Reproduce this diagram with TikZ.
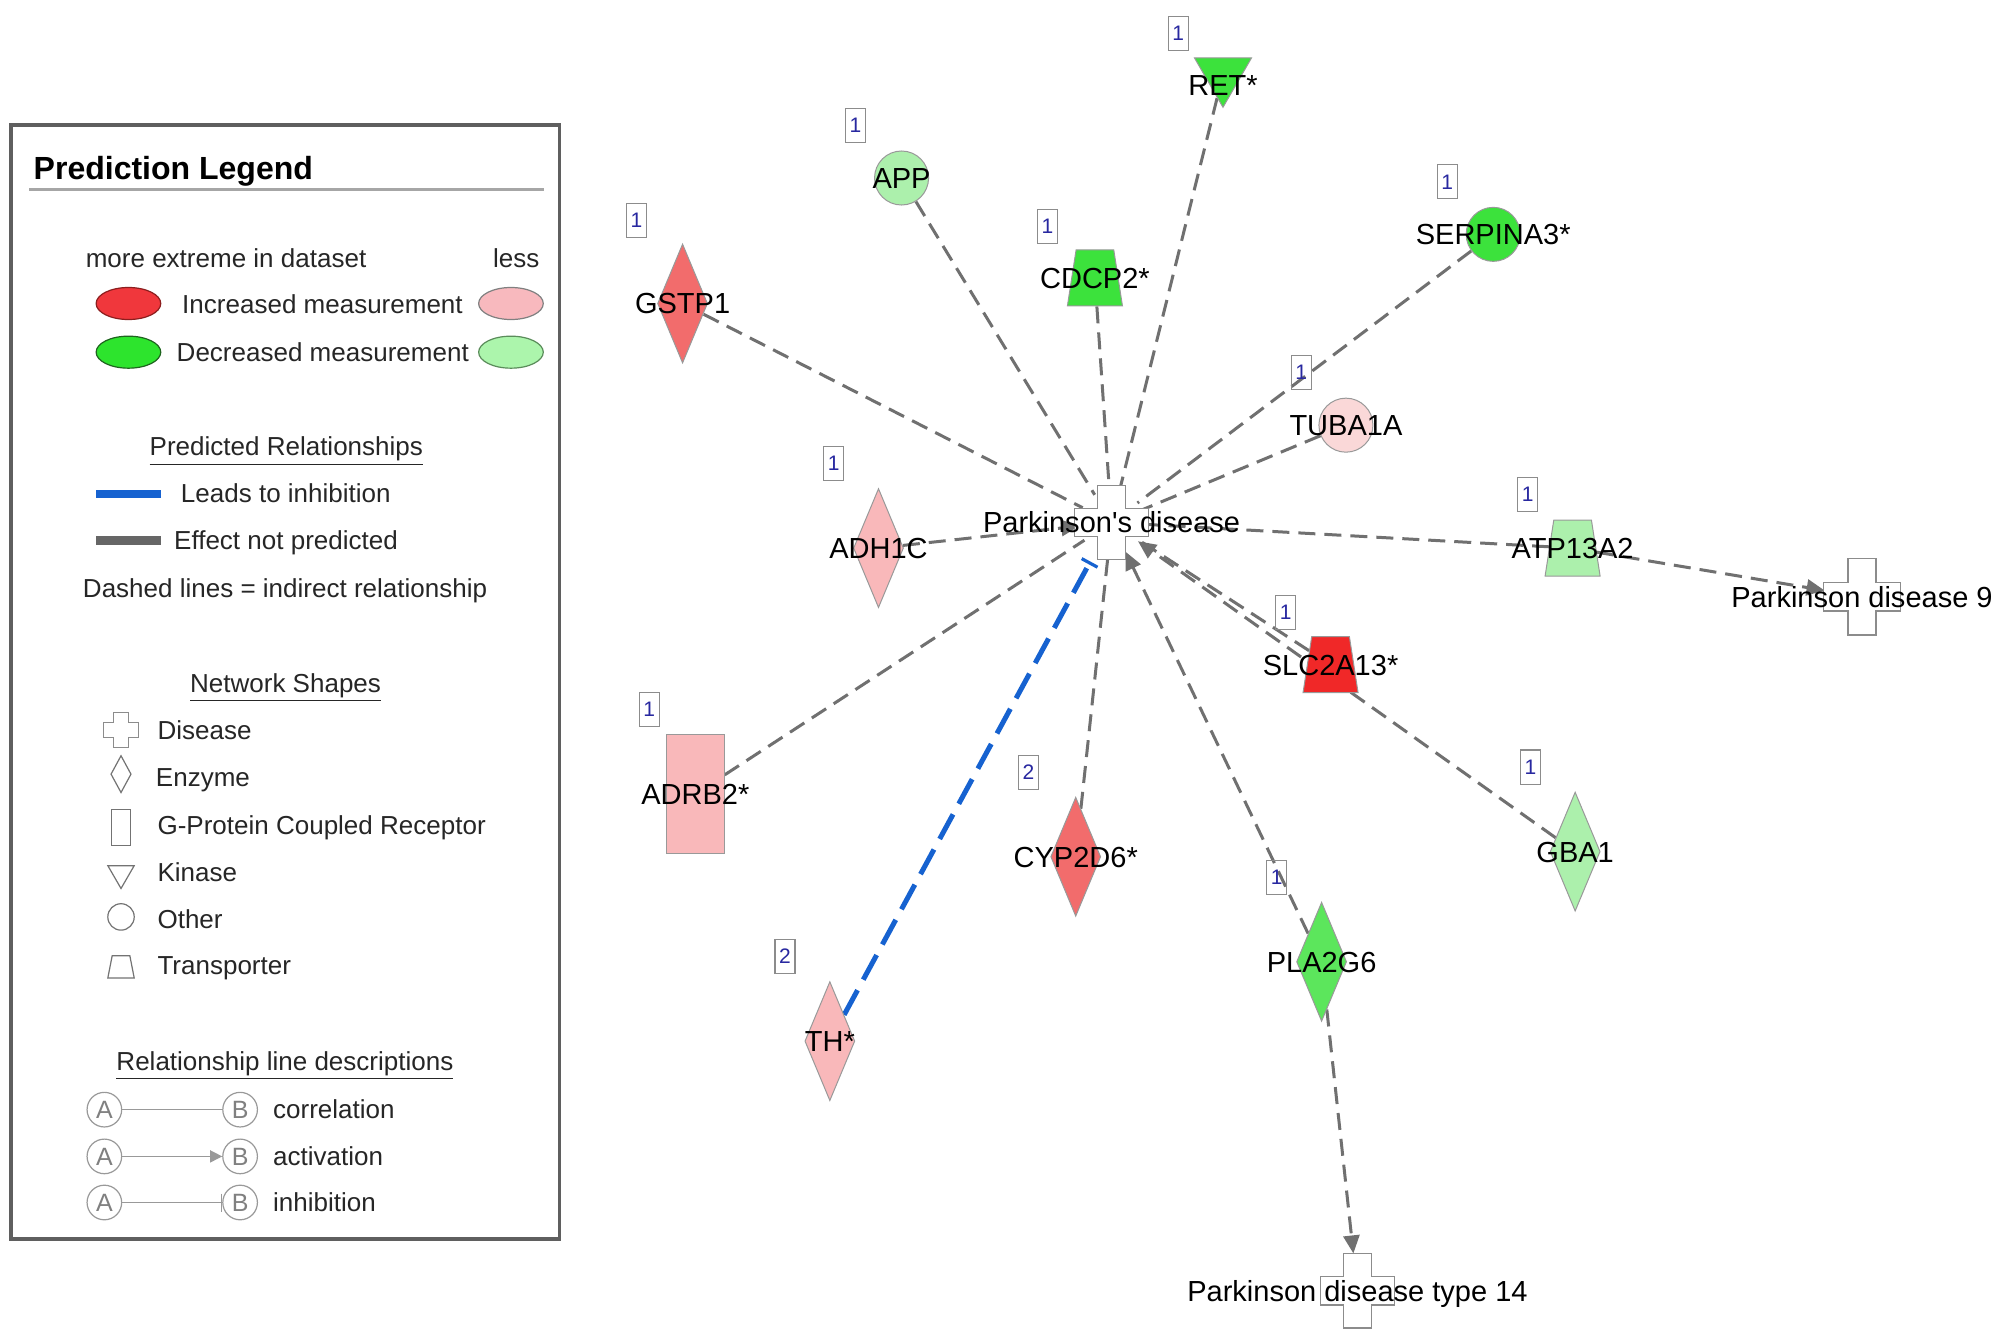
\documentclass[tikz,border=0pt]{standalone}
\usepackage{fontspec}
\setmainfont{Liberation Sans}
\usetikzlibrary{positioning, shapes.geometric, arrows.meta, backgrounds}

\definecolor{upstrong}{RGB}{240,40,40}
\definecolor{upmid}{RGB}{242,108,108}
\definecolor{uplight}{RGB}{249,184,186}
\definecolor{upfaint}{RGB}{250,216,216}
\definecolor{downstrong}{RGB}{60,226,60}
\definecolor{downmid}{RGB}{92,230,92}
\definecolor{downlight}{RGB}{172,240,172}
\definecolor{edgegray}{RGB}{112,112,112}
\definecolor{inhblue}{RGB}{22,98,208}
\definecolor{badgeblue}{RGB}{40,40,160}
\definecolor{framegray}{RGB}{95,95,95}

\begin{document}
\begin{tikzpicture}[
    x=0.64pt, y=-0.64pt,
    genetext/.style={font=\fontsize{14.5}{16}\selectfont, text height=10.4pt, text depth=0pt, inner sep=0pt},
    legtext/.style={font=\fontsize{13}{15}\selectfont, text=black!85, text height=9.3pt, text depth=0pt, inner sep=0pt},
    legtitle/.style={font=\fontsize{16}{18}\selectfont\bfseries, text height=11.5pt, text depth=0pt, inner sep=0pt},
    molecule/.style={draw=black!40, line width=0.5pt, inner sep=0pt},
    enzyme/.style={molecule, diamond, minimum width=25pt, minimum height=59.5pt, label={[genetext]center:#1}},
    transporter/.style={molecule, trapezium, inner sep=1pt, trapezium left angle=77, trapezium right angle=77,
      trapezium stretches=true, minimum width=27.5pt, minimum height=28pt, label={[genetext]center:#1}},
    kinase/.style={molecule, regular polygon, regular polygon sides=3, shape border rotate=180,
      minimum size=33pt, label={[genetext, yshift=-5.5pt]center:#1}},
    other/.style={molecule, circle, minimum size=27pt, label={[genetext]center:#1}},
    gpcr/.style={molecule, rectangle, minimum width=28.8pt, minimum height=59.5pt, label={[genetext]center:#1}},
    hub/.style={circle, minimum size=32pt, inner sep=0pt, label={[genetext]center:#1}},
    endpoint/.style={rectangle, minimum width=37pt, minimum height=37pt, inner sep=0pt, label={[genetext]center:#1}},
    badge/.style={draw=black!45, line width=0.6pt, text=badgeblue, font=\fontsize{10.5}{12}\selectfont,
      minimum width=10pt, minimum height=17pt, inner sep=0pt},
    indirect/.style={draw=edgegray, line width=1.5pt, dash pattern=on 8.5pt off 4.5pt},
    leadsto/.style={-{Triangle[length=9pt, width=8pt]}},
    inhibit/.style={draw=inhblue, line width=2.5pt, dash pattern=on 14pt off 6pt, -{Bar[width=9pt, line width=1.6pt]}},
    legoval/.style={ellipse, line width=0.6pt, minimum width=32.3pt, minimum height=16pt, inner sep=0pt},
    legshape/.style={draw=black!55, line width=0.6pt, inner sep=0pt},
    abcircle/.style={circle, draw=black!40, line width=0.6pt, minimum size=17.3pt, inner sep=0pt,
      text=black!50, font=\fontsize{12.5}{14}\selectfont},
    legline/.style={draw=black!40, line width=0.7pt},
    pics/diseaseplus/.style args={#1/#2}{code={
      \draw[draw=black!45, fill=white, line width=0.7pt]
        (-#2,-#1) -- (#2,-#1) -- (#2,-#2) -- (#1,-#2) -- (#1,#2) -- (#2,#2)
        -- (#2,#1) -- (-#2,#1) -- (-#2,#2) -- (-#1,#2) -- (-#1,-#2) -- (-#2,-#2) -- cycle;
    }},
  ]
  \useasboundingbox (0,0) rectangle (1568,1049);
  \begin{pgfonlayer}{background}
    \fill[white] (0,0) rectangle (1568,1049);
  \end{pgfonlayer}

  % Legend ------------------------------------------------
  \draw[framegray, line width=1.8pt] (8.5,97.5) rectangle (437,967.5);
  \node[legtitle, anchor=west] (legtitle) at (26,131) {Prediction Legend};
  \draw[black!35, line width=1.3pt] (22.7,148) -- (424.6,148);

  \node[legtext, anchor=west] (extreme) at (66.7,201.5) {more extreme in dataset};
  \node[legtext, anchor=west] (less) at (384.8,201.5) {less};
  \node[legoval, fill={rgb,255:red,240;green,55;blue,60}, draw={rgb,255:red,140;green,30;blue,30}] (ovup) at (100.3,237) {};
  \node[legtext, anchor=west] (increased) at (142,237.5) {Increased measurement};
  \node[legoval, fill={rgb,255:red,248;green,185;blue,190}, draw=black!50] (ovuplight) at (399,237) {};
  \node[legoval, fill={rgb,255:red,45;green,228;blue,45}, draw={rgb,255:red,30;green,100;blue,30}] (ovdown) at (100.3,275) {};
  \node[legtext, anchor=west] (decreased) at (137.7,275) {Decreased measurement};
  \node[legoval, fill={rgb,255:red,172;green,245;blue,172}, draw={rgb,255:red,90;green,140;blue,90}] (ovdownlight) at (399,275) {};

  \node[legtext] (predrel) at (223.6,348.8) {\underline{Predicted Relationships}};
  \draw[inhblue, line width=4.2pt] (75,385.8) -- (126,385.8);
  \node[legtext, anchor=west] (leadsinh) at (141,385.5) {Leads to inhibition};
  \draw[black!60, line width=4.2pt] (75,422) -- (126,422);
  \node[legtext, anchor=west] (notpred) at (135.7,422) {Effect not predicted};
  \node[legtext] (dashnote) at (222.6,459) {Dashed lines = indirect relationship};

  \node[legtext] (netshapes) at (223,533.5) {\underline{Network Shapes}};
  \pic at (94.5,570) {diseaseplus=13.5/6};
  \node[legtext, anchor=west] (ldisease) at (122.7,570) {Disease};
  \node[legshape, diamond, minimum width=10.2pt, minimum height=18.6pt] (lenzyme) at (94.5,604.5) {};
  \node[legtext, anchor=west] (lenzymetxt) at (121.5,607) {Enzyme};
  \node[legshape, minimum width=9.3pt, minimum height=18pt] (lgpcr) at (94.5,646) {};
  \node[legtext, anchor=west] (lgpcrtxt) at (122.7,644) {G-Protein Coupled Receptor};
  \node[legshape, regular polygon, regular polygon sides=3, shape border rotate=180, minimum size=15.1pt] (lkinase) at (94.5,682) {};
  \node[legtext, anchor=west] (lkinasetxt) at (122.7,681) {Kinase};
  \node[legshape, circle, minimum size=13.2pt] (lother) at (94.5,716) {};
  \node[legtext, anchor=west] (lothertxt) at (122.7,717.5) {Other};
  \node[legshape, trapezium, inner sep=1pt, trapezium left angle=76, trapezium right angle=76, trapezium stretches=true,
        minimum width=13.2pt, minimum height=11.2pt] (ltrans) at (94.5,755) {};
  \node[legtext, anchor=west] (ltranstxt) at (122.7,754) {Transporter};

  \node[legtext] (reldesc) at (222.5,828.6) {\underline{Relationship line descriptions}};
  \foreach \ry/\k/\tip/\txt in {866.5/1/-/correlation,
      903/2/{-{Triangle[length=6pt, width=6pt]}}/activation,
      939/3/{-{Bar[width=9pt]}}/inhibition} {
    \node[abcircle] (nodeA\k) at (81.5,\ry) {A};
    \node[abcircle] (nodeB\k) at (187.5,\ry) {B};
    \draw[legline, \tip] (nodeA\k) -- (nodeB\k);
    \node[legtext, anchor=west] (reltxt\k) at (213,\ry) {\txt};
  }

  % Network nodes -----------------------------------------
  \pic at (868,408) {diseaseplus=29/11};
  \node[hub={Parkinson\textquotesingle s disease}] (pd) at (868,408) {};
  \pic at (1454,466) {diseaseplus=30/11};
  \node[endpoint={Parkinson disease 9}] (pd9) at (1454,466) {};
  \pic at (1060,1008) {diseaseplus=29/11};
  \node[endpoint={Parkinson disease type 14}] (pd14) at (1060,1008) {};

  \node[kinase={RET*}, fill=downstrong] (ret) at (955,58) {};
  \node[other={APP}, fill=downlight] (app) at (704,139) {};
  \node[transporter={CDCP2*}, fill=downstrong] (cdcp) at (855,217) {};
  \node[other={SERPINA3*}, fill=downstrong] (serp) at (1166,183) {};
  \node[enzyme={GSTP1}, fill=upmid] (gstp) at (533,237) {};
  \node[other={TUBA1A}, fill=upfaint] (tuba) at (1051,332) {};
  \node[enzyme={ADH1C}, fill=uplight] (adh) at (686,428) {};
  \node[transporter={ATP13A2}, fill=downlight] (atp) at (1228,428) {};
  \node[transporter={SLC2A13*}, fill=upstrong] (slc) at (1039,519) {};
  \node[gpcr={ADRB2*}, fill=uplight] (adrb) at (543,620) {};
  \node[enzyme={CYP2D6*}, fill=upmid] (cyp) at (840,669) {};
  \node[enzyme={GBA1}, fill=downlight] (gba) at (1230,665) {};
  \node[enzyme={PLA2G6}, fill=downmid] (pla) at (1032,751) {};
  \node[enzyme={TH*}, fill=uplight] (th) at (648,813) {};

  % Finding counts
  \foreach \bx/\by/\num/\tag in {920/26/1/ret, 668/98/1/app, 818/177/1/cdcp, 1130/142/1/serp,
      497/172/1/gstp, 1016/291/1/tuba, 651/362/1/adh, 1193/386/1/atp, 1004/478/1/slc,
      507/554/1/adrb, 803/603/2/cyp, 1195/599/1/gba, 997/685/1/pla, 613/747/2/th}
    \node[badge] (badge-\tag) at (\bx,\by) {\num};

  % Relationships -----------------------------------------
  \begin{pgfonlayer}{background}
    \foreach \src in {gstp, app, cdcp, ret, serp, tuba, atp, slc, adrb, cyp}
      \draw[indirect] (\src) -- (pd);
    \draw[indirect, leadsto] (adh) -- (pd);
    \draw[indirect, leadsto] (gba) -- (pd);
    \draw[indirect, leadsto] (pla) -- (pd);
    \draw[indirect, leadsto] (pla) -- (pd14);
    \draw[indirect, leadsto] (atp) -- (pd9);
    \draw[inhibit, shorten >=6pt] (th) -- (pd);
  \end{pgfonlayer}
\end{tikzpicture}
\end{document}
